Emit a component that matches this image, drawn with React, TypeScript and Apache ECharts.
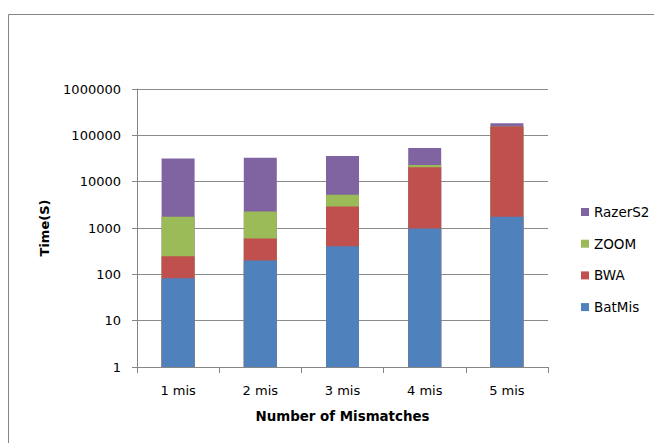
import React, { useEffect, useRef } from "react";
import * as echarts from "echarts";

// Categories and cumulative stack tops (seconds)
const categories = ["1 mis", "2 mis", "3 mis", "4 mis", "5 mis"];
const batMisTop = [82, 200, 405, 980, 1750];
const bwaTop = [245, 595, 2900, 20500, 155000];
const zoomTop = [1740, 2260, 5250, 23000, 155000];
const razerS2Top = [31600, 32800, 36000, 53500, 182000];
const seriesNames = ["RazerS2", "ZOOM", "BWA", "BatMis"];
const seriesColors = ["#8064A2", "#9BBB59", "#C0504D", "#4F81BD"];

const FONT = "DejaVu Sans";

export default function App() {
  const ref = useRef<HTMLDivElement>(null);
  useEffect(() => {
    document.body.style.margin = "0";
    const chart = echarts.init(ref.current!, null, { renderer: "svg" });
    const dataSets = [razerS2Top, zoomTop, bwaTop, batMisTop];
    chart.setOption({
      animation: false,
      backgroundColor: "#ffffff",
      textStyle: { fontFamily: FONT },
      graphic: [
        {
          type: "rect",
          shape: { x: 8.5, y: 14.5, width: 700, height: 500 },
          style: { fill: "none", stroke: "#868686", lineWidth: 1 },
          silent: true,
        },
      ],
      legend: {
        orient: "vertical",
        left: 576,
        top: 200,
        itemWidth: 8,
        itemHeight: 8,
        itemGap: 17.7,
        icon: "rect",
        data: seriesNames,
        textStyle: { fontFamily: FONT, fontSize: 13.5, color: "#000", lineHeight: 14 },
      },
      grid: { left: 137, right: 106, top: 89, bottom: 76, containLabel: false },
      xAxis: {
        type: "category",
        data: categories,
        name: "Number of Mismatches",
        nameLocation: "middle",
        nameGap: 43,
        nameTextStyle: { fontFamily: FONT, fontSize: 13.4, fontWeight: "bold", color: "#000" },
        axisLine: { lineStyle: { color: "#868686" } },
        axisTick: { show: true, length: 6, alignWithLabel: false, lineStyle: { color: "#868686" } },
        axisLabel: { margin: 17, fontFamily: FONT, fontSize: 13, color: "#000" },
      },
      yAxis: {
        type: "log",
        logBase: 10,
        min: 1,
        max: 1000000,
        name: "Time(S)",
        nameLocation: "middle",
        nameRotate: 90,
        nameGap: 86,
        nameTextStyle: { fontFamily: FONT, fontSize: 13, fontWeight: "bold", color: "#000" },
        axisLine: { show: true, lineStyle: { color: "#868686" } },
        axisTick: { show: true, length: 5, lineStyle: { color: "#868686" } },
        splitLine: { show: true, lineStyle: { color: "#8a8a8a" } },
        axisLabel: {
          margin: 16,
          fontFamily: FONT,
          fontSize: 13,
          color: "#000",
          formatter: (v: number) => String(Math.round(v)),
        },
      },
      series: seriesNames.map((name, i) => ({
        name,
        type: "bar",
        data: dataSets[i],
        barWidth: 33,
        barGap: "-100%",
        itemStyle: { color: seriesColors[i] },
      })),
    });
    return () => chart.dispose();
  }, []);
  return <div ref={ref} style={{ width: 654, height: 443 }} />;
}
